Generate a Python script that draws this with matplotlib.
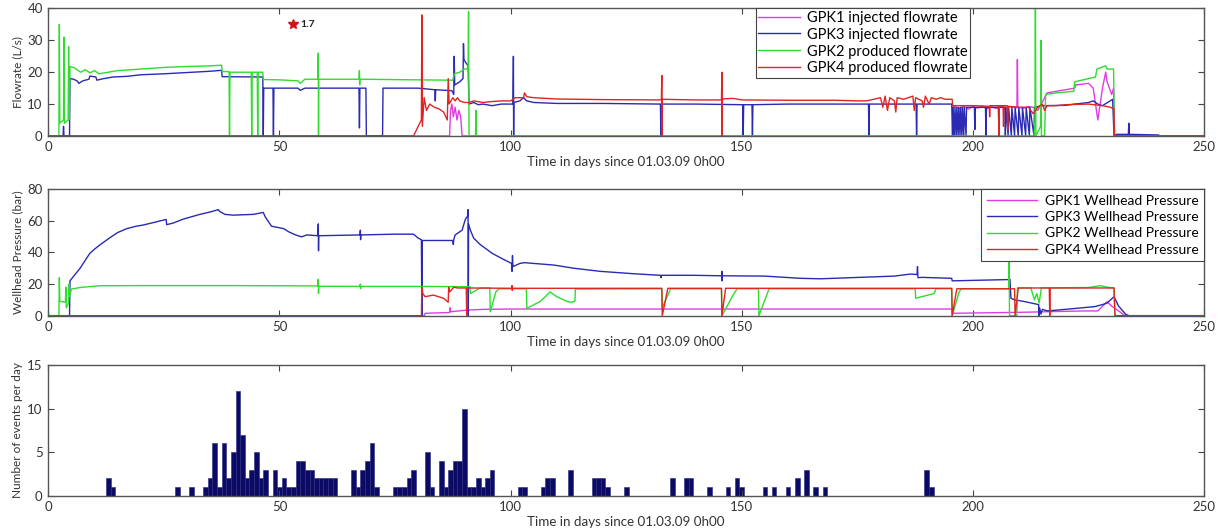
import numpy as np
import matplotlib
matplotlib.use("Agg")
import matplotlib.pyplot as plt

plt.rcParams['font.family'] = ['Lato', 'DejaVu Sans']

# flowrates (L/s), (day, value) pairs
gpk1_q = [(0, 0), (86.8, 0), (87, 8), (87.3, 10), (87.6, 6), (88, 9), (88.4, 5), (88.8, 8),
          (89.2, 6), (89.5, 0), (195.5, 0), (195.6, 9), (196, 9.2), (197, 8.6), (198, 9.3),
          (199, 8.4), (200, 9.2), (201, 8.7), (202, 9.4), (203, 8.5), (204, 9.1), (205, 8.6),
          (206, 9.3), (207, 8.4), (208, 9.2), (209.5, 8.8), (209.6, 24), (209.7, 9), (211, 8.7),
          (212, 9.2), (213, 9), (214, 8), (215.5, 12), (216, 13.5), (218, 14), (220, 14.5),
          (222, 15), (222.2, 16), (225, 16.5), (226, 15), (227, 5), (227.5, 10), (228, 15),
          (228.7, 20), (229, 17), (230, 13), (230.4, 15), (230.6, 0), (250, 0)]
gpk3_q = [(0, 0), (3.2, 0), (3.3, 3), (3.4, 0), (4.6, 0), (4.7, 18), (5.5, 17.8), (6.3, 17.2),
          (6.6, 16.5), (7.5, 17.3), (8.8, 17.8), (9, 18.8), (10.3, 18.5), (10.5, 17.5), (12, 18),
          (14, 18.5), (17, 18.7), (20, 19.2), (25, 19.5), (30, 19.9), (35, 20.3), (37.5, 20.6),
          (37.6, 18.6), (46.4, 18.5), (46.5, 0), (46.6, 15), (48.6, 15), (48.7, 0), (48.8, 15),
          (54, 15), (54.5, 14.3), (55.5, 15), (67.2, 15), (67.3, 2.5), (67.4, 15), (68.7, 15),
          (68.8, 0), (72.3, 0), (72.4, 15), (80, 15), (83.6, 14.5), (83.7, 11), (83.8, 14.5),
          (87.3, 14.2), (87.7, 13), (87.8, 25), (87.9, 16), (89, 17), (89.7, 18), (89.8, 29),
          (89.9, 24), (90.3, 23), (90.8, 22), (91, 10), (92, 10.5), (93, 9.8), (94, 10),
          (96, 9.5), (98, 10), (100.5, 10), (100.6, 25), (100.65, 0), (100.7, 10.5), (102, 11),
          (102.8, 12), (103.5, 11), (105, 10.5), (110, 10.2), (120, 10.2), (132.4, 10),
          (132.5, 0), (132.6, 10), (140, 10), (150.2, 9.8), (150.3, 0), (150.4, 9.8),
          (152.2, 9.8), (152.3, 0), (152.4, 9.8), (160, 10), (177.4, 10), (177.5, 0),
          (177.6, 10), (187.7, 10), (187.8, 0), (187.9, 10), (195.4, 10), (195.6, 0),
          (195.7, 9), (196, 0), (196.1, 9), (196.4, 0), (196.5, 9), (196.8, 0), (196.9, 9),
          (197.2, 0), (197.3, 9), (197.6, 0), (197.7, 9), (198.0, 0), (198.1, 9), (198.5, 0),
          (198.6, 9), (200.3, 9), (200.4, 2), (200.5, 9), (202.7, 9), (202.8, 0), (202.9, 9),
          (205.5, 9), (205.6, 2), (205.7, 9), (206.9, 9), (207, 0), (207.1, 9), (207.6, 0),
          (207.7, 9), (208.3, 0), (208.4, 9), (209, 0), (209.1, 9), (209.8, 0), (209.9, 9),
          (210.6, 0), (210.7, 9), (211.4, 0), (211.5, 9), (212.2, 0), (212.3, 9), (213.2, 0),
          (213.3, 9), (215, 9.5), (220, 9.6), (222, 10), (225, 10.5), (226, 11), (227, 10),
          (228, 9.5), (230.2, 11.5), (230.5, 0), (231, 0.5), (233.6, 0.5), (233.7, 4),
          (233.8, 0.5), (240.2, 0.3), (240.3, 0), (250, 0)]
gpk2_q = [(0, 0), (2.3, 0), (2.4, 35), (2.5, 4), (3.3, 5), (3.4, 31), (3.5, 4), (4.3, 5),
          (4.4, 28), (4.5, 5), (4.7, 21.7), (5.5, 21.5), (6.5, 20.5), (7, 20), (8, 20.8),
          (9, 19.8), (10, 20.5), (11, 19.5), (13, 20), (15, 20.5), (20, 21), (25, 21.5),
          (30, 21.8), (35, 22), (37.5, 22.2), (37.6, 20.2), (39.1, 20.2), (39.2, 0), (39.3, 20),
          (43.9, 20), (44, 0), (44.1, 20), (45.2, 20), (45.3, 0), (45.4, 20), (46.4, 20),
          (46.5, 17.7), (50, 17.6), (54, 17.3), (54.5, 16.5), (55.5, 17.8), (58.3, 17.8),
          (58.4, 26), (58.45, 0), (58.5, 17.8), (67.2, 17.8), (67.3, 20.5), (67.35, 16),
          (67.4, 17.8), (80, 17.6), (87.5, 17.5), (87.8, 19.5), (89, 20), (90, 21), (90.8, 21),
          (90.9, 39), (91.0, 0), (92.4, 0), (92.5, 8), (92.6, 0), (213.2, 0), (213.4, 5),
          (213.5, 45), (213.6, 0), (214.6, 3), (214.7, 30), (214.8, 0), (215.5, 0), (215.7, 13),
          (218, 13.5), (221.8, 14), (222, 17), (225, 18), (226.5, 18.5), (226.8, 21),
          (228.7, 22), (229, 21), (230.4, 21), (230.6, 0), (250, 0)]
gpk4_q = [(0, 0), (79, 0), (80, 3), (80.7, 5), (80.8, 38), (80.9, 3), (81.3, 12), (81.8, 8),
          (82.5, 10), (83.5, 9), (84.5, 8.5), (85.5, 7.5), (86.3, 5), (86.5, 18), (86.7, 10),
          (87.5, 12), (88, 11), (88.5, 12), (89, 11), (90, 10.5), (91, 10.5), (92, 11),
          (94, 10.5), (96, 10.8), (98, 11), (100, 11), (101, 12), (102.8, 12), (103, 13.5),
          (103.5, 12.3), (105, 12), (110, 11.6), (120, 11.4), (132.6, 11.3), (132.7, 19),
          (132.75, 0), (132.8, 11.5), (140, 11.3), (145.6, 11.3), (145.7, 20), (145.75, 0),
          (145.8, 11.6), (148, 11.8), (150, 11.3), (160, 11.2), (170, 11.2), (175, 11),
          (177, 11), (180, 12), (180.5, 9), (181, 12.5), (181.5, 8), (182, 12), (183, 11),
          (183.3, 7.5), (183.6, 12), (185, 11.5), (186, 12), (187, 12.5), (187.3, 8),
          (187.6, 12), (189, 11), (189.3, 9), (189.7, 12.5), (190.5, 10), (191, 12),
          (192, 11.5), (193, 12), (194, 11.5), (195.5, 11.5), (195.6, 9.5), (200, 9.5),
          (203.5, 9.3), (203.6, 6), (203.7, 9.5), (205.5, 9.5), (205.6, 0), (205.7, 9.5),
          (206.5, 9.5), (206.6, 3), (206.7, 9.5), (207.4, 9.5), (207.5, 2), (207.6, 9.3),
          (210, 9), (212, 9), (213, 7), (214, 9), (215, 10), (215.5, 8), (216, 9.5),
          (218, 9.5), (220, 9.8), (225, 10), (228, 9.5), (229.7, 9), (230.5, 8.5),
          (230.6, 0), (250, 0)]

# wellhead pressures (bar)
gpk1_p = [(0, 0), (81.4, 0), (81.5, 1.5), (86.8, 2), (86.9, 5), (87, 2.5), (90.5, 3.5),
          (94.2, 4), (100, 4.2), (195.4, 4.2), (195.5, 1.5), (209.6, 2.1), (216, 2.5),
          (224, 3), (227, 3), (229, 8.8), (230, 6), (231.5, 3), (232.9, 0), (250, 0)]
gpk3_p = [(0, 0), (4.6, 0), (4.7, 22), (5.5, 25), (6.9, 30), (8, 35), (9, 39.4), (10, 42),
          (11.2, 44.8), (12.5, 47.5), (13.7, 50), (15, 52.5), (17, 55), (19, 56.5),
          (20.6, 57.3), (23, 59), (25.5, 60.8), (25.6, 57.5), (27, 58.5), (29.2, 61),
          (31, 62.5), (32.8, 64), (35, 65.5), (36.8, 67), (37, 66), (38.2, 64), (40, 63.5),
          (44.4, 64), (46.5, 65.2), (47, 62), (48.3, 56.5), (50.9, 55), (52, 53), (53.5, 51),
          (54.8, 49.8), (55.9, 51), (58.3, 50.5), (58.4, 58), (58.45, 41), (58.5, 50.5),
          (67.4, 51), (67.5, 54), (67.55, 48), (67.6, 51), (75, 51.5), (79, 51.5), (80, 49),
          (80.7, 48), (80.8, 0), (80.9, 47.5), (85, 47.5), (87.5, 47.5), (87.6, 45),
          (87.7, 48), (88, 51), (89.5, 54), (90.2, 60.8), (90.7, 63), (90.8, 67), (90.85, 0),
          (90.9, 58), (91.3, 54), (92, 49), (93.4, 45), (96, 39.4), (98.5, 35.5),
          (100.2, 33), (100.3, 28), (100.4, 38), (100.5, 31), (102, 33), (103, 33.5),
          (105, 33), (109.3, 32), (113.6, 30), (119.4, 28), (126.6, 26.5), (132.4, 25.5),
          (132.5, 24), (132.6, 25.5), (139.6, 25.5), (145.6, 25.2), (145.7, 28),
          (145.75, 22), (145.8, 25.2), (155, 25), (162.7, 23.6), (167, 23.3), (173.5, 24),
          (183, 25), (186.5, 26.3), (187.9, 26), (188, 31), (188.1, 24), (189, 24.2),
          (195.4, 23.6), (195.5, 22), (207.5, 22.8), (208, 23), (208.2, 11), (209, 10),
          (211, 9), (214.2, 7), (214.3, 0), (214.4, 5), (214.7, 1), (215, 4), (216.1, 3),
          (220, 4), (226.3, 5.7), (228, 7), (229, 8), (230.5, 12), (231.5, 6), (233, 1),
          (233.7, 0), (250, 0)]
gpk2_p = [(0, 0), (2.3, 0), (2.4, 24), (2.5, 9), (3.7, 8.5), (3.8, 18), (3.9, 5), (4.4, 8),
          (4.5, 20), (4.6, 12), (5, 16.8), (6.9, 17.8), (8.7, 18.3), (11.2, 18.9), (20, 19),
          (40, 19), (58.3, 18.8), (58.4, 23), (58.45, 14), (58.5, 18.6), (67.4, 18.5),
          (67.5, 20), (67.55, 17), (67.6, 18.5), (80, 18.5), (91.2, 18.3), (91.3, 14),
          (93.4, 17.5), (95.5, 17.5), (95.6, 2.5), (96.8, 15), (97.5, 17), (103.4, 17),
          (103.5, 4.6), (106.4, 9), (107.5, 12), (108.5, 15), (110, 12), (112.2, 9),
          (113, 8.5), (113.9, 9), (114, 16.8), (132.7, 17), (132.8, 5), (134.6, 17),
          (145.6, 17), (145.7, 0), (148.3, 14), (149, 17), (153.6, 17), (153.7, 0),
          (155.9, 17), (187.5, 17), (187.6, 11), (191.6, 14), (192, 17), (195.4, 17),
          (195.5, 0), (197, 15), (197.5, 17), (207.7, 17), (207.8, 40), (207.9, 0),
          (209.5, 0), (209.6, 17.5), (212.5, 17.5), (213.3, 10), (213.8, 14), (214.3, 8),
          (214.8, 17.5), (225, 17.8), (227.6, 19), (229, 18), (230.5, 17.5), (230.7, 0),
          (250, 0)]
gpk4_p = [(0, 0), (80.7, 0), (80.8, 18), (81, 14), (81.5, 12), (83.3, 13), (85.5, 11),
          (86.5, 8.5), (86.6, 18), (86.8, 15), (87.7, 18), (88.5, 17.5), (90.4, 17.5),
          (90.5, 0), (90.6, 17.5), (100.2, 17.3), (100.3, 19), (100.35, 16), (100.4, 17.3),
          (132.7, 17.3), (132.8, 0), (134, 17.3), (145.6, 17.3), (145.7, 0), (146.5, 17.3),
          (195.4, 17.3), (195.5, 0), (196.5, 17), (209, 17), (209.1, 0), (209.8, 17.5),
          (216.5, 17.5), (216.6, 0), (216.7, 17.5), (230.5, 17.5), (230.7, 0), (250, 0)]

# seismic events per day
event_days = [13, 14, 28, 31, 34, 35, 36, 37, 38, 39, 40, 41, 42, 43, 44, 45, 46, 47, 49, 50,
              51, 52, 53, 54, 55, 56, 57, 58, 59, 60, 61, 62, 66, 67, 68, 69, 70, 71, 75, 76,
              77, 78, 79, 82, 83, 85, 86, 87, 88, 89, 90, 91, 92, 93, 94, 95, 96, 102, 103,
              107, 108, 109, 113, 118, 119, 120, 121, 125, 135, 138, 139, 143, 147, 149, 150,
              155, 157, 160, 162, 164, 166, 168, 190, 191]
event_counts = [2, 1, 1, 1, 1, 2, 6, 1, 6, 2, 5, 12, 7, 2, 3, 5, 2, 3, 3, 1,
                2, 1, 1, 4, 4, 3, 3, 2, 2, 2, 2, 2, 3, 1, 3, 4, 6, 1, 1, 1,
                1, 2, 3, 5, 1, 4, 1, 3, 4, 4, 10, 1, 1, 2, 1, 2, 3, 1, 1,
                1, 2, 2, 3, 2, 2, 2, 1, 1, 2, 2, 2, 1, 1, 2, 1,
                1, 1, 1, 2, 3, 1, 1, 3, 1]

col_m = '#e23be2'
col_b = '#2a2ab4'
col_g = '#2fdc2f'
col_r = '#e02424'
xlab = 'Time in days since 01.03.09 0h00'


def xy(pairs):
    a = np.array(pairs, dtype=float)
    return a[:, 0], a[:, 1]


def style(ax, yticks):
    ax.set_xlim(0, 250)
    ax.set_xticks([0, 50, 100, 150, 200, 250])
    ax.set_yticks(yticks)
    ax.set_ylim(yticks[0], yticks[-1])
    ax.tick_params(direction='in', top=True, right=True, length=4, width=0.8,
                   labelsize=9.5, colors='#444444', labelcolor='#333333', pad=4)
    for s in ax.spines.values():
        s.set_color('#555555')
        s.set_linewidth(1)
    ax.set_xlabel(xlab, fontsize=9.6, color='#333333', labelpad=2)


fig = plt.figure(figsize=(12.25, 5.31), dpi=100)
L, W = 0.0394, 0.9436
ax1 = fig.add_axes([L, 0.744, W, 0.240])
ax2 = fig.add_axes([L, 0.4055, W, 0.2385])
ax3 = fig.add_axes([L, 0.0665, W, 0.2461])

lw = 1.0
for pairs, c, lab in [(gpk1_q, col_m, 'GPK1 injected flowrate'),
                      (gpk3_q, col_b, 'GPK3 injected flowrate'),
                      (gpk2_q, col_g, 'GPK2 produced flowrate'),
                      (gpk4_q, col_r, 'GPK4 produced flowrate')]:
    x, y = xy(pairs)
    ax1.plot(x, y, color=c, lw=lw, label=lab)
ax1.plot([53], [35], marker='*', color='#d41414', ms=7, ls='none')
ax1.text(54.6, 35, '1.7', fontsize=7.5, fontweight='bold', va='center', color='#222222')
style(ax1, [0, 10, 20, 30, 40])
ax1.set_ylabel('Flowrate (L/s)', fontsize=8.5, color='#333333', labelpad=3)
leg1 = ax1.legend(loc='upper left', bbox_to_anchor=(0.612, 1.0), borderaxespad=0,
                  fontsize=10.5, fancybox=False, edgecolor='#444444', framealpha=1,
                  handlelength=2.9, labelspacing=0.2, borderpad=0.15, handletextpad=0.5)
leg1.get_frame().set_linewidth(0.8)

for pairs, c, lab in [(gpk1_p, col_m, 'GPK1 Wellhead Pressure'),
                      (gpk3_p, col_b, 'GPK3 Wellhead Pressure'),
                      (gpk2_p, col_g, 'GPK2 Wellhead Pressure'),
                      (gpk4_p, col_r, 'GPK4 Wellhead Pressure')]:
    x, y = xy(pairs)
    ax2.plot(x, y, color=c, lw=lw, label=lab)
style(ax2, [0, 20, 40, 60, 80])
ax2.set_ylabel('Wellhead Pressure (bar)', fontsize=8.5, color='#333333', labelpad=3)
leg2 = ax2.legend(loc='upper right', bbox_to_anchor=(1.0, 1.0), borderaxespad=0,
                  fontsize=10, fancybox=False, edgecolor='#444444', framealpha=1,
                  handlelength=3.6, labelspacing=0.32, borderpad=0.4, handletextpad=0.6)
leg2.get_frame().set_linewidth(0.8)

ax3.bar(event_days, event_counts, width=1.0, color='#0b0b66', edgecolor='#2a2a80',
        linewidth=0.4)
style(ax3, [0, 5, 10, 15])
ax3.set_ylabel('Number of events per day', fontsize=8.5, color='#333333', labelpad=3)

fig.savefig('out.png', dpi=100)
